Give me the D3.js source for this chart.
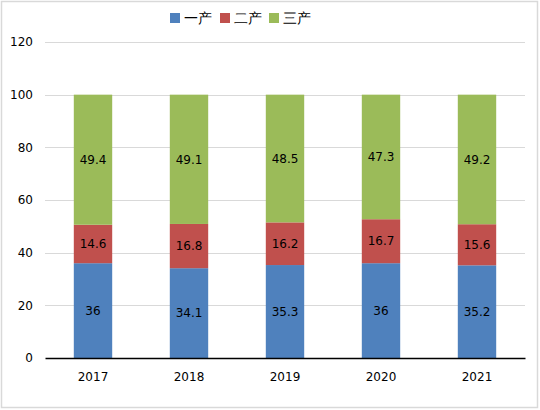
<!DOCTYPE html>
<html>
<head>
<meta charset="utf-8">
<script src="https://cdn.jsdelivr.net/npm/d3@7"></script>
<style>
  body { margin: 0; background: #fff; }
  text { font-family: "DejaVu Sans", sans-serif; }
</style>
</head>
<body>
<svg id="chart" width="540" height="410"></svg>
<script>
// 三次产业构成（%）
const years = ["2017", "2018", "2019", "2020", "2021"];
const seriesNames = ["一产", "二产", "三产"];
const primary = [36, 34.1, 35.3, 36, 35.2];
const secondary = [14.6, 16.8, 16.2, 16.7, 15.6];
const tertiary = [49.4, 49.1, 48.5, 47.3, 49.2];
const yTicks = [0, 20, 40, 60, 80, 100, 120];
const colors = ["#4F81BD", "#C0504D", "#9BBB59"];

const margin = {top: 42, right: 15, bottom: 52, left: 45},
      width = 525 - margin.left,
      height = 358 - margin.top;

const svg = d3.select("#chart");

// 外框
svg.append("rect")
    .attr("x", 1.5).attr("y", 1.5)
    .attr("width", 536).attr("height", 406)
    .attr("fill", "#fff")
    .attr("stroke", "#D9D9D9")
    .attr("stroke-width", 1.5);

const g = svg.append("g").attr("transform", `translate(${margin.left},${margin.top})`);

const table = years.map((y, i) => ({year: y, "一产": primary[i], "二产": secondary[i], "三产": tertiary[i]}));
const stacked = d3.stack().keys(seriesNames)(table);

const x = d3.scaleBand()
    .domain(years)
    .range([0, width])
    .paddingInner(0.6)
    .paddingOuter(0.3);

const y = d3.scaleLinear()
    .domain([0, 120])
    .range([height, 0]);

// 网格线
g.selectAll(".grid")
    .data(yTicks.filter(d => d > 0))
    .enter()
    .append("line")
    .attr("x1", 0).attr("x2", width)
    .attr("y1", d => Math.round(y(d)) + 0.5)
    .attr("y2", d => Math.round(y(d)) + 0.5)
    .attr("stroke", "#D9D9D9")
    .attr("stroke-width", 1);

// 纵轴
const yAxis = g.append("g")
    .call(d3.axisLeft(y).tickValues(yTicks).tickSize(0).tickPadding(12));
yAxis.select(".domain").remove();
yAxis.selectAll("text")
    .attr("font-family", "DejaVu Sans")
    .attr("font-size", "12px")
    .attr("fill", "#000");

// 柱子
const layers = g.selectAll(".layer")
    .data(stacked)
    .enter()
    .append("g")
    .attr("fill", (d, i) => colors[i]);

layers.selectAll("rect")
    .data(d => d)
    .enter()
    .append("rect")
    .attr("x", d => x(d.data.year))
    .attr("y", d => y(d[1]))
    .attr("width", x.bandwidth())
    .attr("height", d => y(d[0]) - y(d[1]));

// 数据标签
layers.each(function(layer) {
    d3.select(this).selectAll("text")
        .data(layer)
        .enter()
        .append("text")
        .attr("x", d => x(d.data.year) + x.bandwidth() / 2)
        .attr("y", d => (y(d[0]) + y(d[1])) / 2)
        .attr("dy", "0.35em")
        .attr("text-anchor", "middle")
        .attr("font-size", "12px")
        .attr("fill", "#000")
        .text(d => d.data[layer.key]);
});

// 横轴
const xAxis = g.append("g")
    .attr("transform", `translate(0,${height})`)
    .call(d3.axisBottom(x).tickSize(0).tickPadding(14));
xAxis.select(".domain").attr("stroke", "#000").attr("stroke-width", 1.5);
xAxis.selectAll("text")
    .attr("font-family", "DejaVu Sans")
    .attr("font-size", "12px")
    .attr("fill", "#000");

// 图例
const legendX = [170, 220, 269];
const legend = svg.selectAll(".legend")
    .data(seriesNames)
    .enter()
    .append("g")
    .attr("transform", (d, i) => `translate(${legendX[i]},13)`);
legend.append("rect")
    .attr("width", 10).attr("height", 10)
    .attr("fill", (d, i) => colors[i]);
legend.append("text")
    .attr("x", 14).attr("y", 5)
    .attr("dy", "0.35em")
    .attr("font-family", "Noto Sans CJK SC")
    .attr("font-size", "14px")
    .attr("fill", "#000")
    .text(d => d);
</script>
</body>
</html>
